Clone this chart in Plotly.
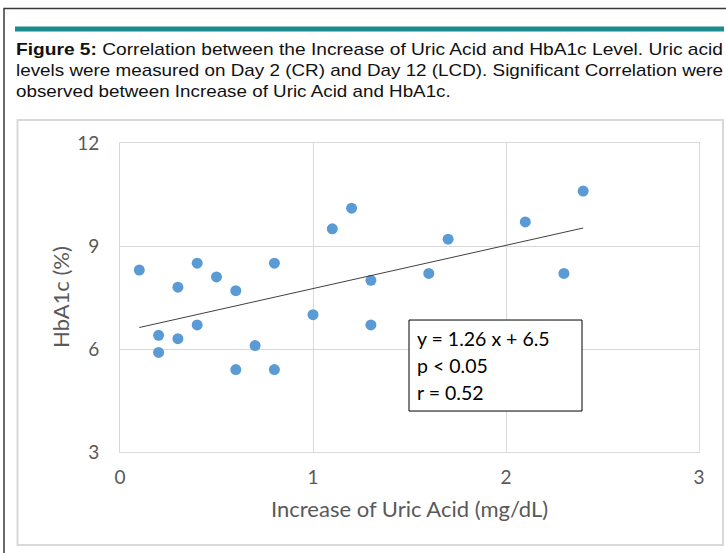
import plotly.graph_objects as go

# ---- data ----
uric_increase = [0.1, 0.2, 0.2, 0.3, 0.3, 0.4, 0.4, 0.5, 0.6, 0.6, 0.7, 0.8, 0.8,
                 1.0, 1.1, 1.2, 1.3, 1.3, 1.6, 1.7, 2.1, 2.3, 2.4]
hba1c = [8.3, 6.4, 5.9, 7.8, 6.3, 8.5, 6.7, 8.1, 7.7, 5.4, 6.1, 8.5, 5.4,
         7.0, 9.5, 10.1, 8.0, 6.7, 8.2, 9.2, 9.7, 8.2, 10.6]
trend_slope = 1.26
trend_intercept = 6.5
stats_lines = ["y = 1.26 x + 6.5", "p < 0.05", "r = 0.52"]
x_ticks = [0, 1, 2, 3]
y_ticks = [3, 6, 9, 12]
x_title = "Increase of Uric Acid (mg/dL)"
y_title = "HbA1c (%)"
caption_lines = [
    "<b>Figure 5:</b> Correlation between the Increase of Uric Acid and HbA1c Level. Uric acid",
    "levels were measured on Day 2 (CR) and Day 12 (LCD). Significant Correlation were",
    "observed between Increase of Uric Acid and HbA1c.",
]
caption_justified = [True, True, False]

W, H = 726, 553
L, R, T, B = 120, 699, 143, 452
CAP_LEFT, CAP_RIGHT = 15, 722
CAP_SIZE = 17
CAP_STRETCH = 18.8 / 17  # caption glyphs are wider than the plain font


def px(x):
    return (x - L) / (R - L)


def py(y):
    return (B - y) / (B - T)


tx0, tx1 = min(uric_increase), max(uric_increase)

fig = go.Figure()
fig.add_trace(go.Scatter(
    x=uric_increase, y=hba1c, mode="markers",
    marker=dict(size=11, color="#5b9bd5"), showlegend=False, cliponaxis=False))
fig.add_trace(go.Scatter(
    x=[tx0, tx1], y=[trend_slope * tx0 + trend_intercept, trend_slope * tx1 + trend_intercept],
    mode="lines", line=dict(color="#404040", width=1), showlegend=False))

chart_font = "Lato, Open Sans, sans-serif"
cap_font = "Liberation Sans, Arial, sans-serif"

shapes = [
    # outer page frame
    dict(type="rect", xref="paper", yref="paper", x0=px(4), x1=px(740), y0=py(8.5), y1=py(570),
         line=dict(color="#3a3a3a", width=1.5), fillcolor="rgba(0,0,0,0)", layer="below"),
    # teal bar
    dict(type="rect", xref="paper", yref="paper", x0=px(15), x1=px(724), y0=py(26.5), y1=py(31.5),
         line=dict(width=0), fillcolor="#1b8c8e", layer="below"),
    # chart box
    dict(type="rect", xref="paper", yref="paper", x0=px(17.5), x1=px(723), y0=py(120), y1=py(545),
         line=dict(color="#d9d9d9", width=2), fillcolor="white", layer="below"),
    # stats box
    dict(type="rect", xref="x", yref="y", x0=(409 - L) / 193, x1=(582 - L) / 193,
         y0=12 - (320 - T) / 34.33, y1=12 - (411 - T) / 34.33,
         line=dict(color="#000000", width=1), fillcolor="white", layer="above"),
]

annotations = []
cap_y = [49, 70.5, 91.5]
for i, line in enumerate(caption_lines):
    annotations.append(dict(
        xref="paper", yref="paper", x=px(CAP_LEFT - 1), y=py(cap_y[i]), xanchor="left", yanchor="middle",
        align="left", text=line, showarrow=False,
        font=dict(family=cap_font, size=CAP_SIZE, color="#111111")))
for i, line in enumerate(stats_lines):
    annotations.append(dict(
        xref="x", yref="y", x=(415 - L) / 193, y=12 - (338 + 27 * i - T) / 34.33,
        xanchor="left", yanchor="middle", align="left", text=line, showarrow=False,
        font=dict(family=chart_font, size=19.5, color="#000000")))
annotations.append(dict(
    xref="paper", yref="paper", x=0.5, y=py(508), xanchor="center", yanchor="middle",
    text=x_title, showarrow=False, font=dict(family=chart_font, size=22, color="#595959")))
annotations.append(dict(
    xref="paper", yref="paper", x=px(60), y=py(297), xanchor="center", yanchor="middle",
    text=y_title, textangle=-90, showarrow=False,
    font=dict(family=chart_font, size=22, color="#595959")))

fig.update_layout(
    width=W, height=H,
    margin=dict(l=L, r=W - R, t=T, b=H - B),
    paper_bgcolor="white", plot_bgcolor="white",
    shapes=shapes, annotations=annotations,
    xaxis=dict(range=[0, 3], tickvals=x_ticks, ticktext=[str(v) for v in x_ticks],
               showgrid=True, gridcolor="#d9d9d9", gridwidth=1, zeroline=False,
               showline=True, linecolor="#d9d9d9", mirror=True, ticks="",
               ticklabelstandoff=8,
               tickfont=dict(family=chart_font, size=19, color="#595959")),
    yaxis=dict(range=[3, 12], tickvals=y_ticks, ticktext=[str(v) for v in y_ticks],
               showgrid=True, gridcolor="#d9d9d9", gridwidth=1, zeroline=False,
               showline=True, linecolor="#d9d9d9", mirror=True, ticks="",
               ticklabelstandoff=16,
               tickfont=dict(family=chart_font, size=19, color="#595959")),
)

# remove the default page margin; justify / widen the caption lines
cap_rules = [[l.replace("<b>", "").replace("</b>", "")[:14], 1 if j else 0]
             for l, j in zip(caption_lines, caption_justified)]
post_js = """
document.body.style.margin = '0';
var gd = document.getElementById('{plot_id}');
var rules = %s;
var target = %d;
var stretch = %f;
gd.querySelectorAll('text.annotation-text').forEach(function (t) {
  var s = t.textContent;
  rules.forEach(function (r) {
    if (s.indexOf(r[0]) === 0) {
      var w = t.getComputedTextLength();
      var goal = r[1] ? target : w * stretch;
      t.setAttribute('textLength', goal);
      t.setAttribute('lengthAdjust', 'spacingAndGlyphs');
    }
  });
});
""" % (str(cap_rules), CAP_RIGHT - CAP_LEFT, CAP_STRETCH)

fig.write_html("out.html", post_script=post_js, config={"displayModeBar": False})
